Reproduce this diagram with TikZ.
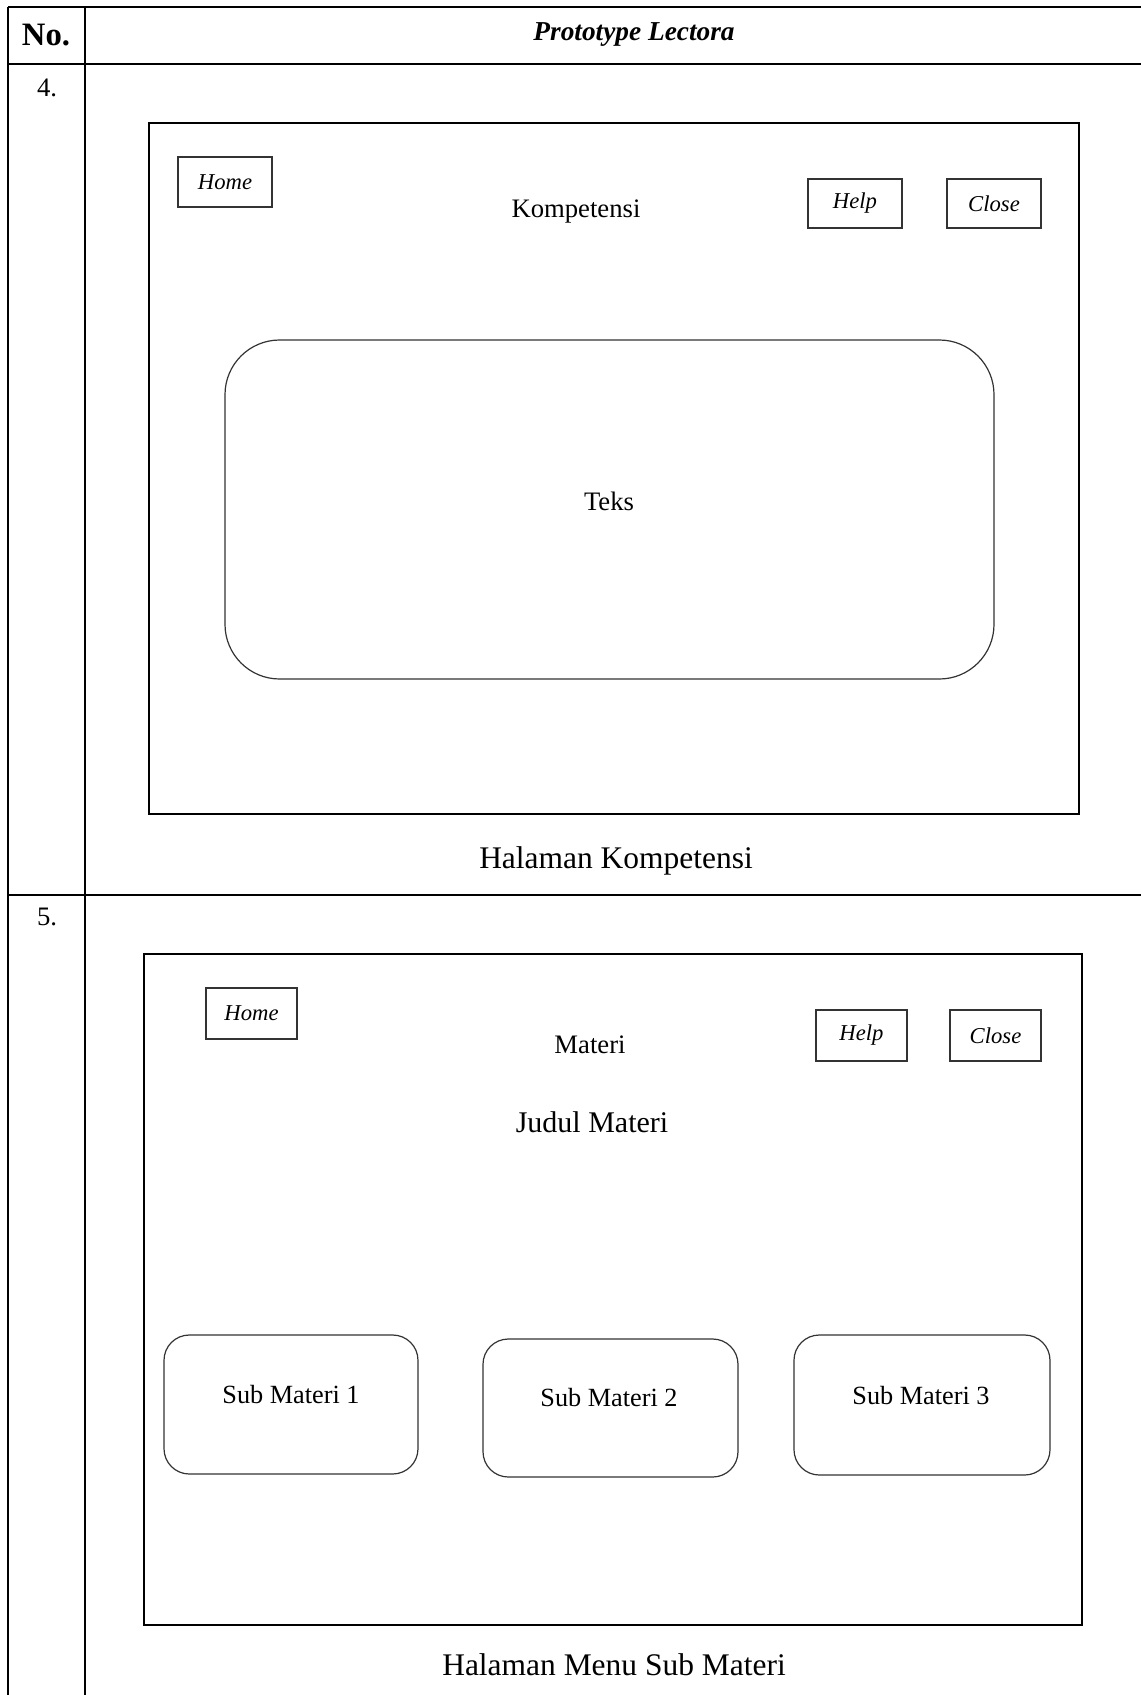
\documentclass[tikz,border=0pt]{standalone}
\usepackage{fontspec}
\setmainfont{Liberation Serif}
\begin{document}
\begin{tikzpicture}[x=0.75pt,y=-0.75pt,
  gridline/.style={line width=1.6pt,black},
  frame/.style={draw=black,line width=1.2pt,inner sep=0pt},
  btn/.style={draw=black!80,line width=0.8pt,inner sep=0pt,font=\fontsize{17}{20}\selectfont\itshape},
  panel/.style={draw=black!80,line width=0.9pt,rounded corners=41pt},
  subbox/.style={draw=black!80,line width=0.9pt,rounded corners=19pt,inner sep=0pt},
  lbl/.style={inner sep=0pt,font=\fontsize{20}{24}\selectfont},
  caption/.style={inner sep=0pt,font=\fontsize{23.6}{28}\selectfont},
  num/.style={inner sep=0pt,font=\fontsize{20}{24}\selectfont}]
\useasboundingbox (0,0) rectangle (1141,1695);
\fill[white] (0,0) rectangle (1141,1695);

% table grid
\coordinate (tl) at (8,7);
\coordinate (tr) at (1141,7);
\coordinate (hl) at (8,64);
\coordinate (hr) at (1141,64);
\coordinate (rl) at (8,895);
\coordinate (rr) at (1141,895);
\coordinate (bl) at (8,1695);
\coordinate (ct) at (85,7);
\coordinate (cb) at (85,1695);
\draw[gridline] (tl) -- (tr);
\draw[gridline] (hl) -- (hr);
\draw[gridline] (rl) -- (rr);
\draw[gridline] (tl) -- (bl);
\draw[gridline] (ct) -- (cb);

% header
\node[inner sep=0pt,font=\fontsize{24.5}{28}\selectfont\bfseries] (hno) at (46,35) {No.};
\node[inner sep=0pt,font=\fontsize{20.5}{24}\selectfont\bfseries\itshape] (hproto) at (634,35) {Prototype Lectora};

% row 4: competence page
\node[num] (n4) at (47,88) {4.};
\draw[frame] (149,123) rectangle (1079,814);
\node[btn,minimum width=94*0.75pt,minimum height=50*0.75pt] (home1) at (225,182) {Home};
\node[btn,minimum width=94*0.75pt,minimum height=49*0.75pt] (help1) at (855,203.5) {Help};
\node[btn,minimum width=94*0.75pt,minimum height=49*0.75pt] (close1) at (994,203.5) {Close};
\node[lbl] (komp) at (576,212) {Kompetensi};
\draw[panel] (225,340) rectangle (994,679);
\node[lbl] (teks) at (609,501) {Teks};
\node[caption] (cap1) at (616,861) {Halaman Kompetensi};

% row 5: sub-material menu page
\node[num] (n5) at (47,917) {5.};
\draw[frame] (144,954) rectangle (1082,1625);
\node[btn,minimum width=91*0.75pt,minimum height=51*0.75pt] (home2) at (251.5,1013.5) {Home};
\node[btn,minimum width=91*0.75pt,minimum height=51*0.75pt] (help2) at (861.5,1035.5) {Help};
\node[btn,minimum width=91*0.75pt,minimum height=51*0.75pt] (close2) at (995.5,1035.5) {Close};
\node[lbl] (materi) at (590,1045) {Materi};
\node[inner sep=0pt,font=\fontsize{22.5}{27}\selectfont] (judul) at (592,1122) {Judul Materi};
\draw[subbox] (164,1335) rectangle (418,1474);
\draw[subbox] (483,1339) rectangle (738,1477);
\draw[subbox] (794,1335) rectangle (1050,1475);
\node[lbl,font=\fontsize{19.7}{24}\selectfont] (sub1) at (291,1394) {Sub Materi 1};
\node[lbl,font=\fontsize{19.7}{24}\selectfont] (sub2) at (609,1397) {Sub Materi 2};
\node[lbl,font=\fontsize{19.7}{24}\selectfont] (sub3) at (921,1395) {Sub Materi 3};
\node[caption] (cap2) at (614,1665) {Halaman Menu Sub Materi};
\end{tikzpicture}
\end{document}
